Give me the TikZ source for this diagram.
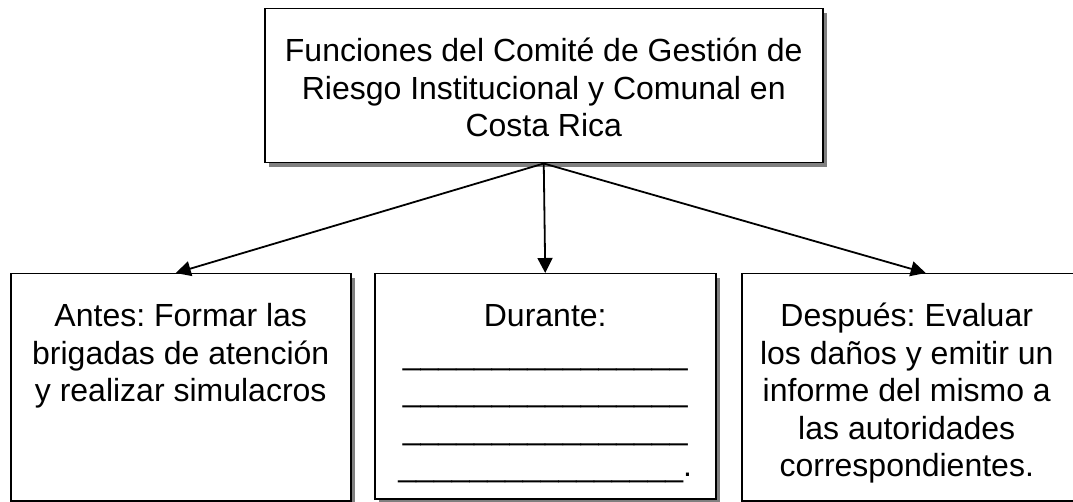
\documentclass[tikz,border=0pt]{standalone}
\usepackage{fontspec}
\setmainfont{Liberation Sans}
\usetikzlibrary{arrows.meta,shadows}
\frenchspacing
\newcommand{\boxtext}[3]{\parbox[t][#2][t]{#1}{\centering\rule{0pt}{53pt}#3}}
\begin{document}
\begin{tikzpicture}[x=1pt,y=-1pt,
  fbox/.style={draw,line width=1.5pt,inner sep=0pt,anchor=north west,fill=white,
    drop shadow={shadow xshift=4pt,shadow yshift=-4pt,fill=gray,opacity=1},
    font=\fontsize{32}{37.5}\selectfont},
  conn/.style={line width=1.8pt,-{Triangle[length=15pt,width=15pt]}}]
\useasboundingbox (0,0) rectangle (1073,502);
\node[fbox] (top) at (264,8) {\boxtext{558pt}{154pt}{Funciones del Comité de Gestión de\\Riesgo Institucional y Comunal en\\Costa Rica}};
\node[fbox] (left) at (10,273) {\boxtext{340pt}{227pt}{Antes: Formar las\\brigadas de atención\\y realizar simulacros}};
\node[fbox] (mid) at (374,273) {\boxtext{341pt}{225pt}{Durante:\\\_\_\_\_\_\_\_\_\_\_\_\_\_\_\_\_\\\_\_\_\_\_\_\_\_\_\_\_\_\_\_\_\_\\\_\_\_\_\_\_\_\_\_\_\_\_\_\_\_\_\\\_\_\_\_\_\_\_\_\_\_\_\_\_\_\_\_.}};
\node[fbox] (right) at (741,273) {\boxtext{330pt}{227pt}{Después: Evaluar\\los daños y emitir un\\informe del mismo a\\las autoridades\\correspondientes.}\hspace*{30pt}};
\coordinate (ltip) at ([xshift=-5pt]left.north);
\coordinate (rtip) at ([xshift=4pt]right.north);
\draw[conn] (top.south) -- (ltip);
\draw[conn] (top.south) -- (mid.north);
\draw[conn] (top.south) -- (rtip);
\end{tikzpicture}
\end{document}
